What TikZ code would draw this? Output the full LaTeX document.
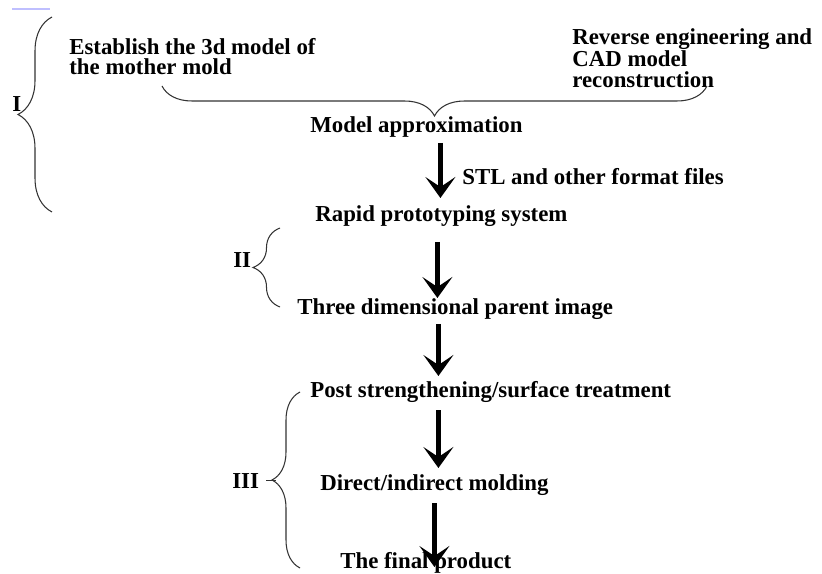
\documentclass[tikz,border=0pt]{standalone}
\usepackage{fontspec}
\setmainfont{Liberation Serif}
\usetikzlibrary{arrows.meta,decorations.pathreplacing}

\begin{document}
\begin{tikzpicture}[
    x=0.02cm, y=-0.02cm,
    every node/.style={font=\fontsize{13}{11.6}\selectfont\bfseries, inner sep=0pt},
    txt/.style={anchor=base west},
    multi/.style={anchor=north west, align=left},
    arr/.style={-{Stealth[length=4.2mm, width=6mm, inset=2mm]}, line width=2.8pt},
    brc/.style={decorate, decoration={brace, amplitude=#1}, line width=0.6pt, draw=black!80},
    brc/.default=0.6cm
]
\useasboundingbox (0,0) rectangle (822,574);
\draw[blue!25, line width=0.8pt] (12,9) -- (50,9);

% Stage I
\node[multi] (est) at (69,38) {Establish the 3d model of\\the mother mold};
\node[multi] (rev) at (572,28) {Reverse engineering and\\CAD model\\reconstruction};
\node[txt] (ma) at (310,133) {Model approximation};
\node[txt] (stl) at (462,185) {STL and other format files};
\node[txt] (l1) at (12,112) {I};
\coordinate (b1a) at (52,212);
\coordinate (b1b) at (52,17);
\coordinate (bha) at (707,86);
\coordinate (bhb) at (162,86);
\draw[brc=0.68cm] (b1a) -- (b1b);
\draw[brc=0.6cm] (bha) -- (bhb);

% Stage II
\node[txt] (rp) at (315,222) {Rapid prototyping system};
\node[txt] (tdp) at (297,315) {Three dimensional parent image};
\node[txt] (l2) at (233,268) {II};
\coordinate (b2a) at (280,307);
\coordinate (b2b) at (280,228);
\draw[brc=0.54cm] (b2a) -- (b2b);

% Stage III
\node[txt] (pst) at (310,398) {Post strengthening/surface treatment};
\node[txt] (dm) at (320,490) {Direct/indirect molding};
\node[txt] (fp) at (340,568) {The final product};
\node[txt] (l3) at (232,488) {III};
\coordinate (b3a) at (300,568);
\coordinate (b3b) at (300,392);
\draw[brc=0.56cm] (b3a) -- (b3b);
\draw[line width=0.6pt, draw=black!80] ([xshift=0.14cm]l3.east) -- ++(10,0);

% Arrows
\draw[arr] ([shift={(24,10)}]ma.base) coordinate (a1) -- ([shift={(0,-24)}]a1 |- rp.base);
\draw[arr] ([shift={(-3,20)}]rp.base -| a1) coordinate (a2) -- ([shift={(0,-17)}]a2 |- tdp.base);
\draw[arr] ([shift={(-2,9)}]tdp.base -| a1) coordinate (a3) -- ([shift={(0,-22)}]a3 |- pst.base);
\draw[arr] ([shift={(-2,12)}]pst.base -| a1) coordinate (a4) -- ([shift={(0,-22)}]a4 |- dm.base);
\draw[arr] ([shift={(-6,13)}]dm.base -| a1) coordinate (a5) -- ([shift={(0,-1)}]a5 |- fp.base);
\end{tikzpicture}
\end{document}
